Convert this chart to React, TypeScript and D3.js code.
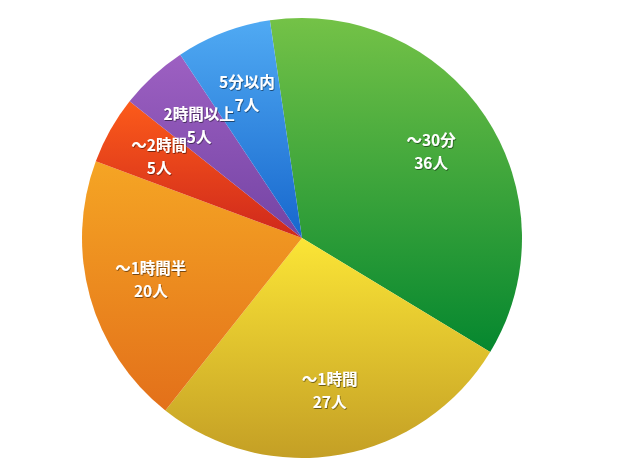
import React from "react";
import * as d3 from "d3";

const categories = ["～30分", "～1時間", "～1時間半", "～2時間", "2時間以上", "5分以内"];
const values = [36, 27, 20, 5, 5, 7];
const valueLabels = ["36人", "27人", "20人", "5人", "5人", "7人"];
const colorsTop = ["#74c247", "#fbe536", "#f5a524", "#fc5b1a", "#9d60c2", "#50aaf3"];
const colorsBottom = ["#05872f", "#c49f25", "#e3701a", "#cf281c", "#7444a4", "#1767cd"];
const labelRadii = [155, 156, 157, 164, 152, 154];

const W = 620;
const H = 465;
const cx = 302;
const cy = 238;
const R = 220;
const startDeg = -8.4;
const half = 11.5;

export default function App() {
  const pie = d3
    .pie<number>()
    .sort(null)
    .value((d) => d)
    .startAngle((startDeg * Math.PI) / 180)
    .endAngle(((startDeg + 360) * Math.PI) / 180);
  const arcs = pie(values);
  const arc = d3.arc<d3.PieArcDatum<number>>().innerRadius(0).outerRadius(R);

  return (
    <svg
      width={W}
      height={H}
      style={{ position: "absolute", left: 0, top: 0, display: "block" }}
    >
      <defs>
        {categories.map((_, i) => (
          <linearGradient key={i} id={`g${i}`} x1="0" y1="0" x2="0" y2="1">
            <stop offset="0%" stopColor={colorsTop[i]} />
            <stop offset="100%" stopColor={colorsBottom[i]} />
          </linearGradient>
        ))}
        <filter id="ts" x="-20%" y="-20%" width="140%" height="140%">
          <feDropShadow dx="0.7" dy="1" stdDeviation="0.6" floodColor="#000" floodOpacity="0.5" />
        </filter>
      </defs>
      <rect width={W} height={H} fill="#fff" />
      <g transform={`translate(${cx},${cy})`}>
        {arcs.map((a, i) => (
          <path key={i} d={arc(a) || ""} fill={`url(#g${i})`} />
        ))}
        {arcs.map((a, i) => {
          const la = d3
            .arc<d3.PieArcDatum<number>>()
            .innerRadius(labelRadii[i])
            .outerRadius(labelRadii[i]);
          const [x, y] = la.centroid(a);
          return (
            <g
              key={"l" + i}
              filter="url(#ts)"
              fill="#fff"
              fontFamily="'Noto Sans CJK JP', 'Noto Sans', sans-serif"
              fontWeight="bold"
              fontSize={15.5}
              textAnchor="middle"
            >
              <text x={x} y={y - half} dy="0.35em">
                {categories[i]}
              </text>
              <text x={x} y={y + half} dy="0.35em">
                {valueLabels[i]}
              </text>
            </g>
          );
        })}
      </g>
    </svg>
  );
}
